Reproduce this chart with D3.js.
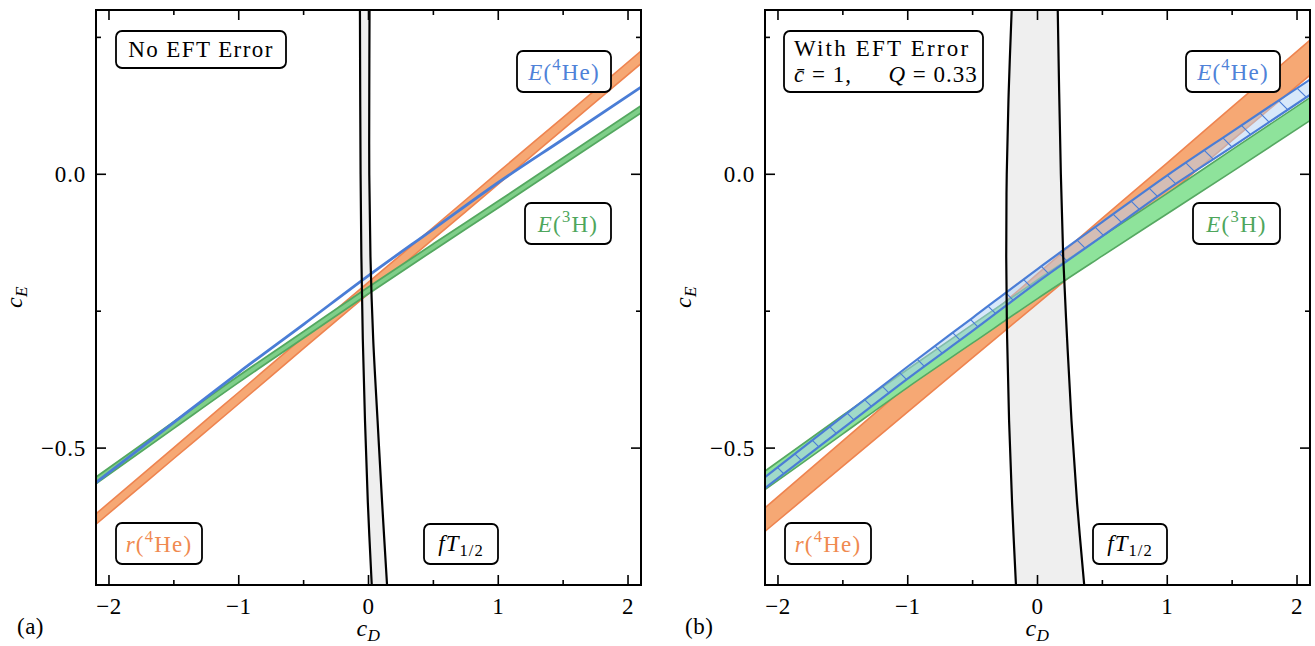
<!DOCTYPE html>
<html><head><meta charset="utf-8">
<script src="https://cdn.jsdelivr.net/npm/d3@7"></script>
<style>
html,body{margin:0;padding:0;background:#fff;}
svg text{font-family:"Liberation Serif","DejaVu Serif",serif;}
</style></head>
<body><svg id="c" width="1315" height="646"></svg>
<script>
// ---------- data ----------
const cD = [-2.1, -1.5, -1.0, -0.5, 0.0, 0.5, 1.0, 1.5, 2.1];
// panel (a): no EFT error
const rHe4_a_lo = [-0.639, -0.519, -0.419, -0.318, -0.218, -0.118, -0.018, 0.082, 0.202];
const rHe4_a_hi = [-0.620, -0.499, -0.398, -0.297, -0.197, -0.097, 0.004, 0.104, 0.225];
const eH3_a_lo  = [-0.565, -0.464, -0.380, -0.299, -0.218, -0.139, -0.061, 0.018, 0.112];
const eH3_a_hi  = [-0.553, -0.452, -0.368, -0.287, -0.206, -0.127, -0.049, 0.030, 0.125];
const eHe4_a    = [-0.563, -0.453, -0.362, -0.274, -0.185, -0.100, -0.015, 0.064, 0.159];
// panel (b): with EFT error
const rHe4_b_lo = [-0.652, -0.533, -0.434, -0.335, -0.236, -0.137, -0.038, 0.062, 0.181];
const rHe4_b_hi = [-0.609, -0.487, -0.385, -0.284, -0.182, -0.080, 0.021, 0.123, 0.245];
const eH3_b_lo  = [-0.576, -0.474, -0.389, -0.308, -0.227, -0.149, -0.072, 0.005, 0.098];
const eH3_b_hi  = [-0.542, -0.440, -0.356, -0.274, -0.193, -0.113, -0.035, 0.045, 0.140];
const eHe4_b_lo = [-0.573, -0.464, -0.373, -0.286, -0.197, -0.113, -0.028, 0.050, 0.145];
const eHe4_b_hi = [-0.553, -0.442, -0.351, -0.262, -0.173, -0.087, -0.002, 0.078, 0.173];
// fT1/2 band: cD edges as a function of cE
const cE = [0.3, 0.15, 0.0, -0.15, -0.3, -0.45, -0.6, -0.75];
const fT_a_left  = [-0.066, -0.064, -0.061, -0.055, -0.044, -0.027, -0.005, 0.025];
const fT_a_right = [0.008, 0.006, 0.006, 0.015, 0.036, 0.070, 0.105, 0.143];
const fT_b_left  = [-0.199, -0.222, -0.237, -0.241, -0.234, -0.219, -0.196, -0.166];
const fT_b_right = [0.156, 0.167, 0.180, 0.198, 0.228, 0.262, 0.305, 0.360];
// ticks
const xMajor = [-2, -1, 0, 1, 2];
const xMinor = [-1.5, -0.5, 0.5, 1.5];
const yMajor = [0.0, -0.5];
const yMinor = [0.25, -0.25];
const xTickLabels = ["\u22122", "\u22121", "0", "1", "2"];
const yTickLabels = ["0.0", "\u22120.5"];

// ---------- styles ----------
const ORANGE_FILL = "#f6a874", ORANGE_EDGE = "#ee8450";
const GREEN_FILL = "#8ee39b", GREEN_EDGE = "#56a862", GREEN_DARK = "#54a860";
const BLUE = "#4a7dd6", BLUE_FILL = "rgba(178,210,246,0.5)";
const FS = 23;

const svg = d3.select("#c");
const defs = svg.append("defs");
const HT = 31;
const pat = defs.append("pattern").attr("id","hatch").attr("patternUnits","userSpaceOnUse")
  .attr("width",HT).attr("height",HT);
pat.append("path").attr("d",`M-2,-2 L${HT+2},${HT+2} M-2,${HT-2} L2,${HT+2} M${HT-2},-2 L${HT+2},2`)
  .attr("stroke",BLUE).attr("stroke-width",1.2).attr("fill","none");

const TOP = 10, BOT = 585;
const panels = [
  {L:96, R:641, tag:"(a)", tagX:17, yl:22},
  {L:765, R:1310, tag:"(b)", tagX:685, yl:691}
];

function mathText(g, x, y, segs, opts) {
  const fs = opts.fs||FS;
  const t = g.append("text").attr("x",x).attr("y",y).attr("font-size",fs)
    .attr("fill",opts.color||"#000").attr("text-anchor",opts.anchor||"middle")
    .attr("letter-spacing", opts.ls==null ? 0.8 : opts.ls).style("white-space","pre");
  if (opts.transform) t.attr("transform",opts.transform);
  let shift = 0;
  segs.forEach(s => {
    const sp = t.append("tspan").text(s.t);
    if (s.it) sp.attr("font-style","italic");
    let target = 0;
    if (s.sup) target = -0.42*fs;
    if (s.sub) target = 0.22*fs;
    if (s.sup || s.sub) sp.attr("font-size",fs*0.72);
    sp.attr("dy", target - shift); shift = target;
  });
  return t;
}
function plain(g, x, y, str, anchor, ls) {
  return g.append("text").attr("x",x).attr("y",y).attr("font-size",FS)
    .attr("text-anchor",anchor).attr("letter-spacing",ls==null?0.8:ls).text(str);
}
function box(g, x0, x1, y0, y1) {
  g.append("rect").attr("x",x0).attr("y",y0).attr("width",x1-x0).attr("height",y1-y0)
    .attr("rx",6).attr("ry",6).attr("fill","#fff").attr("stroke","#000").attr("stroke-width",1.8);
}

panels.forEach((p, i) => {
  const x = d3.scaleLinear().domain([-2.1, 2.1]).range([p.L, p.R]);
  const y = d3.scaleLinear().domain([-0.75, 0.3]).range([BOT, TOP]);
  const g = svg.append("g");
  const clipId = "clip"+i;
  defs.append("clipPath").attr("id",clipId).append("rect")
    .attr("x",p.L).attr("y",TOP).attr("width",p.R-p.L).attr("height",BOT-TOP);
  const pg = g.append("g").attr("clip-path",`url(#${clipId})`);

  const band = (lo, hi) => d3.area().x((d,k)=>x(cD[k])).y0((d,k)=>y(lo[k])).y1((d,k)=>y(hi[k]))
      .curve(d3.curveMonotoneX)(cD);
  const edge = (arr) => d3.line().x((d,k)=>x(cD[k])).y((d,k)=>y(arr[k])).curve(d3.curveMonotoneX)(cD);

  // fT band (vertical)
  const fl = i===0 ? fT_a_left : fT_b_left, fr = i===0 ? fT_a_right : fT_b_right;
  const ptsL = cE.map((e,k)=>[x(fl[k]), y(e)]), ptsR = cE.map((e,k)=>[x(fr[k]), y(e)]);
  const vline = d3.line().curve(d3.curveCatmullRom);
  pg.append("path").attr("d", vline(ptsL) + "L" + vline(ptsR.slice().reverse()).slice(1) + "Z")
    .attr("fill","#efefef").attr("stroke","none");

  if (i === 0) {
    pg.append("path").attr("d",band(rHe4_a_lo,rHe4_a_hi)).attr("fill",ORANGE_FILL);
    [rHe4_a_lo,rHe4_a_hi].forEach(a=>pg.append("path").attr("d",edge(a)).attr("fill","none")
      .attr("stroke",ORANGE_EDGE).attr("stroke-width",1.6));
    pg.append("path").attr("d",band(eH3_a_lo,eH3_a_hi)).attr("fill","#7fcf89");
    [eH3_a_lo,eH3_a_hi].forEach(a=>pg.append("path").attr("d",edge(a)).attr("fill","none")
      .attr("stroke",GREEN_DARK).attr("stroke-width",1.8));
    pg.append("path").attr("d",edge(eHe4_a)).attr("fill","none")
      .attr("stroke",BLUE).attr("stroke-width",2.8);
  } else {
    pg.append("path").attr("d",band(rHe4_b_lo,rHe4_b_hi)).attr("fill",ORANGE_FILL);
    [rHe4_b_lo,rHe4_b_hi].forEach(a=>pg.append("path").attr("d",edge(a)).attr("fill","none")
      .attr("stroke",ORANGE_EDGE).attr("stroke-width",1.6));
    pg.append("path").attr("d",band(eH3_b_lo,eH3_b_hi)).attr("fill",GREEN_FILL);
    [eH3_b_lo,eH3_b_hi].forEach(a=>pg.append("path").attr("d",edge(a)).attr("fill","none")
      .attr("stroke",GREEN_EDGE).attr("stroke-width",1.6));
    pg.append("path").attr("d",band(eHe4_b_lo,eHe4_b_hi)).attr("fill",BLUE_FILL);
    pg.append("path").attr("d",band(eHe4_b_lo,eHe4_b_hi)).attr("fill","url(#hatch)");
    [eHe4_b_lo,eHe4_b_hi].forEach(a=>pg.append("path").attr("d",edge(a)).attr("fill","none")
      .attr("stroke",BLUE).attr("stroke-width",2.2));
  }
  // fT edges on top
  [ptsL, ptsR].forEach(pts => pg.append("path").attr("d", vline(pts)).attr("fill","none")
    .attr("stroke","#000").attr("stroke-width",2.2));

  // axes frame and ticks
  const ax = g.append("g");
  const tick = (x1,y1,x2,y2)=>ax.append("line").attr("x1",x1).attr("y1",y1).attr("x2",x2).attr("y2",y2)
    .attr("stroke","#000").attr("stroke-width",1.6);
  xMajor.forEach(v=>{ tick(x(v),BOT,x(v),BOT-10); tick(x(v),TOP,x(v),TOP+10); });
  xMinor.forEach(v=>{ tick(x(v),BOT,x(v),BOT-5); tick(x(v),TOP,x(v),TOP+5); });
  yMajor.forEach(v=>{ tick(p.L,y(v),p.L+10,y(v)); tick(p.R,y(v),p.R-10,y(v)); });
  yMinor.forEach(v=>{ tick(p.L,y(v),p.L+5,y(v)); tick(p.R,y(v),p.R-5,y(v)); });
  ax.append("rect").attr("x",p.L).attr("y",TOP).attr("width",p.R-p.L).attr("height",BOT-TOP)
    .attr("fill","none").attr("stroke","#000").attr("stroke-width",2);

  xMajor.forEach((v,k)=>plain(ax, x(v), 614, xTickLabels[k], "middle", 0.5));
  yMajor.forEach((v,k)=>plain(ax, p.L-10, y(v)+8, yTickLabels[k], "end", 0.8));

  // axis labels
  mathText(g, (p.L+p.R)/2, 636, [{t:"c",it:true},{t:"D",it:true,sub:true}], {fs:24, ls:0.5});
  mathText(g, p.yl, 297, [{t:"c",it:true},{t:"E",it:true,sub:true}],
    {fs:24, ls:0.5, transform:`rotate(-90 ${p.yl} 297)`});
  plain(g, p.tagX, 634, p.tag, "start", 0.5);

  // annotation boxes
  const L = p.L;
  if (i === 0) {
    box(g, L+20, L+190, 31, 68);
    plain(g, L+105, 57, "No EFT Error", "middle", 1.4);
  } else {
    box(g, L+19, L+218, 31, 92);
    plain(g, L+29, 56, "With EFT Error", "start", 2.2);
    mathText(g, L+29, 82, [{t:"c\u0304",it:true},{t:" = 1,\u2003\u2002"},{t:"Q",it:true},{t:" = 0.33"}], {anchor:"start", ls:1.0});
  }
  const eHx0 = L+421, eHx1 = L+515;
  box(g, eHx0, eHx1, 51, 92);
  mathText(g, (eHx0+eHx1)/2, 80, [{t:"E",it:true},{t:"("},{t:"4",sup:true},{t:"He"},{t:")"}], {color:"#4f82d8", ls:1.2});
  const e3x0 = i===0 ? L+429 : L+428, e3x1 = L+515;
  box(g, e3x0, e3x1, 203, 244);
  mathText(g, (e3x0+e3x1)/2, 232, [{t:"E",it:true},{t:"("},{t:"3",sup:true},{t:"H"},{t:")"}], {color:"#4ea65c", ls:1.2});
  box(g, L+20, L+106, 523, 564);
  mathText(g, L+63, 552, [{t:"r",it:true},{t:"("},{t:"4",sup:true},{t:"He"},{t:")"}], {color:"#f08a50", ls:1.2});
  box(g, L+328, L+402, 524, 564);
  mathText(g, L+365, 551, [{t:"fT",it:true},{t:"1/2",sub:true}], {ls:1.0});
});
</script></body></html>
